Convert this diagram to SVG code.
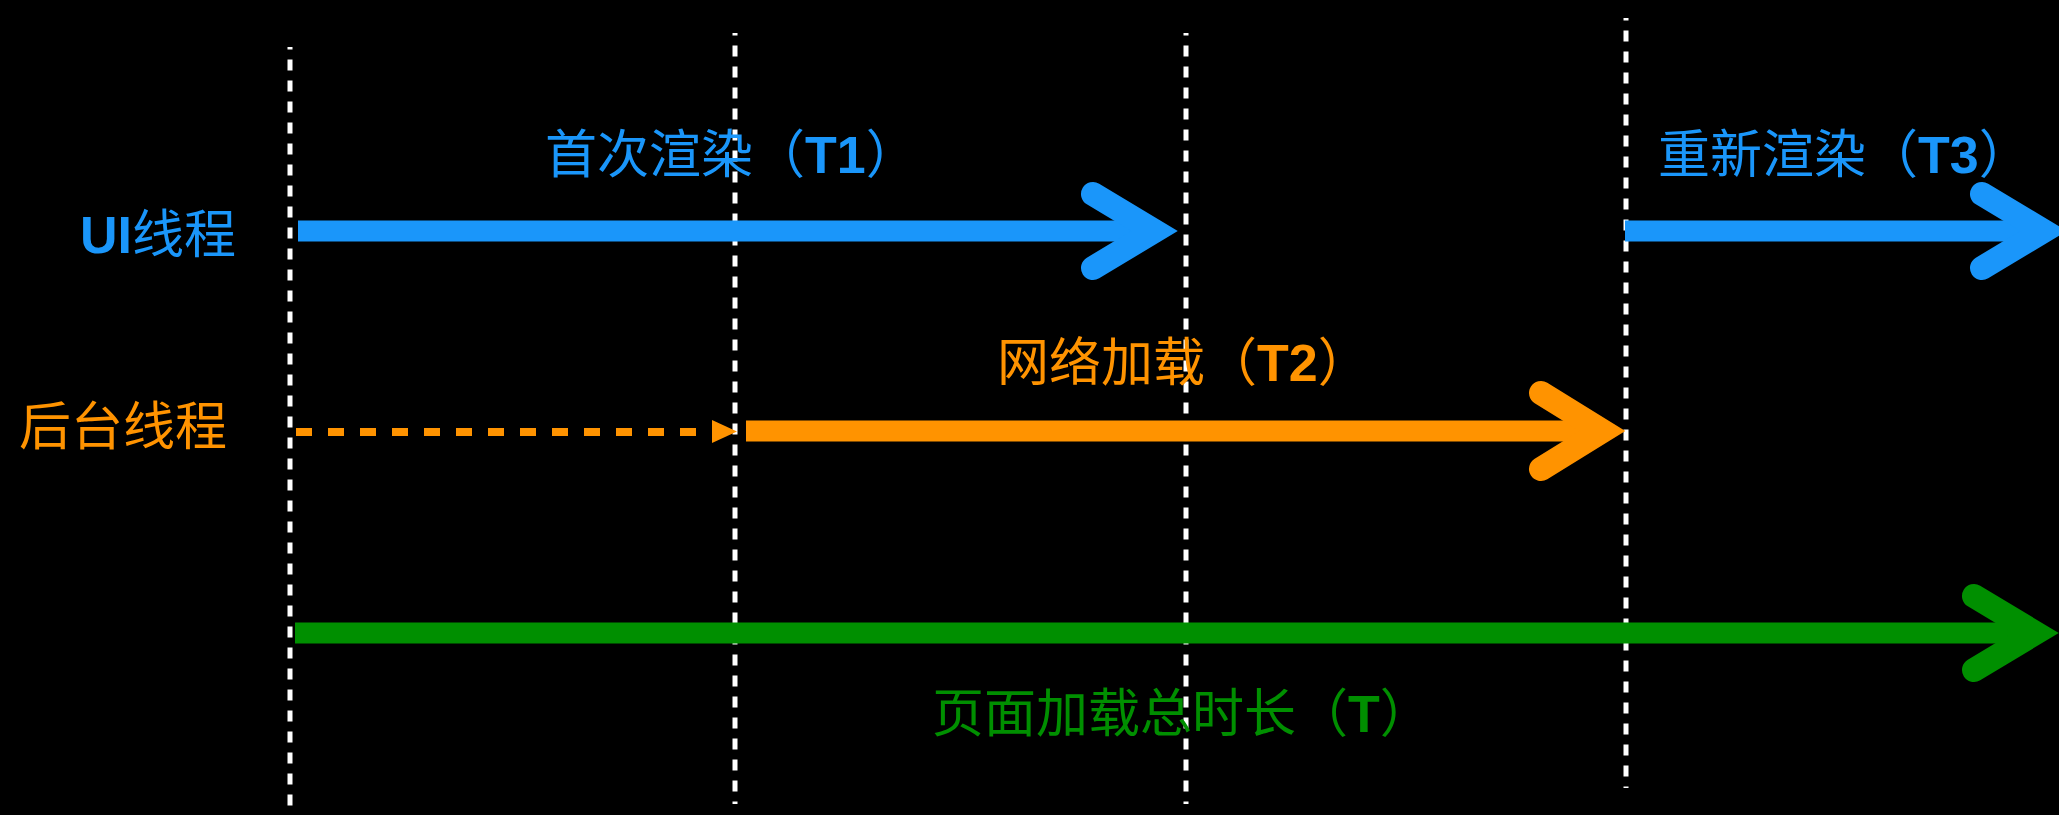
<svg xmlns="http://www.w3.org/2000/svg" width="2059" height="815" viewBox="0 0 2059 815">
  <style>
    .bg { fill: #000000; }
    .guide { stroke: #FFFFFF; stroke-width: 5; stroke-dasharray: 11 10; fill: none; }
    .lbl { font-family: "Liberation Sans", "Noto Sans CJK SC", sans-serif; font-size: 52px; }
    .b { font-weight: bold; }
    .blue { fill: #1A96FA; }
    .orange { fill: #FF9300; }
    .green { fill: #008F00; }
    .shaft { stroke-width: 21; fill: none; }
    .head { stroke-width: 24; fill: none; stroke-linecap: round; stroke-linejoin: miter; stroke-miterlimit: 10; }
    .sblue { stroke: #1A96FA; }
    .sorange { stroke: #FF9300; }
    .sgreen { stroke: #008F00; }
    .dash { stroke: #FF9300; stroke-width: 8; stroke-dasharray: 16 16; fill: none; }
  </style>
  <defs>
    <marker id="tri" markerUnits="userSpaceOnUse" markerWidth="26" markerHeight="24" refX="0" refY="12" orient="auto" viewBox="0 0 26 24">
      <polygon points="0,0 25,11.5 0,23" fill="#FF9300"/>
    </marker>
  </defs>
  <rect class="bg" x="0" y="0" width="2059" height="815"/>

  <g id="guides">
    <line class="guide" x1="290" y1="47" x2="290" y2="815" stroke-dashoffset="8.5"/>
    <line class="guide" x1="735" y1="33" x2="735" y2="804" stroke-dashoffset="8.5"/>
    <line class="guide" x1="1186" y1="33" x2="1186" y2="804" stroke-dashoffset="8.5"/>
    <line class="guide" x1="1626" y1="18" x2="1626" y2="788" stroke-dashoffset="8.5"/>
  </g>

  <g id="connectors">
    <!-- UI thread: first render -->
    <line class="shaft sblue" x1="298" y1="231" x2="1160" y2="231"/>
    <polyline class="head sblue" points="1093,194 1154.5,231 1093,268"/>
    <!-- UI thread: re-render -->
    <line class="shaft sblue" x1="1625" y1="231" x2="2045" y2="231"/>
    <polyline class="head sblue" points="1982,194 2043.5,231 1982,268"/>
    <!-- background thread: waiting (dashed) -->
    <line class="dash" x1="296" y1="432" x2="712" y2="432" marker-end="url(#tri)"/>
    <!-- background thread: network load -->
    <line class="shaft sorange" x1="746" y1="431" x2="1605" y2="431"/>
    <polyline class="head sorange" points="1541,393 1602.5,431 1541,469"/>
    <!-- total page load -->
    <line class="shaft sgreen" x1="295" y1="633" x2="2035" y2="633"/>
    <polyline class="head sgreen" points="1974,596 2035.5,633 1974,670"/>
  </g>

  <g id="label-ui-thread">
    <text class="lbl blue" x="80" y="253"><tspan class="b">UI</tspan>线程</text>
  </g>
  <g id="label-bg-thread">
    <text class="lbl orange" x="19" y="445">后台线程</text>
  </g>
  <g id="label-t1">
    <text class="lbl blue" x="545" y="173">首次渲染（<tspan class="b">T1</tspan>）</text>
  </g>
  <g id="label-t3">
    <text class="lbl blue" x="1658" y="173">重新渲染（<tspan class="b">T3</tspan>）</text>
  </g>
  <g id="label-t2">
    <text class="lbl orange" x="997" y="381">网络加载（<tspan class="b">T2</tspan>）</text>
  </g>
  <g id="label-t">
    <text class="lbl green" x="932" y="732">页面加载总时长（<tspan class="b">T</tspan>）</text>
  </g>
</svg>
